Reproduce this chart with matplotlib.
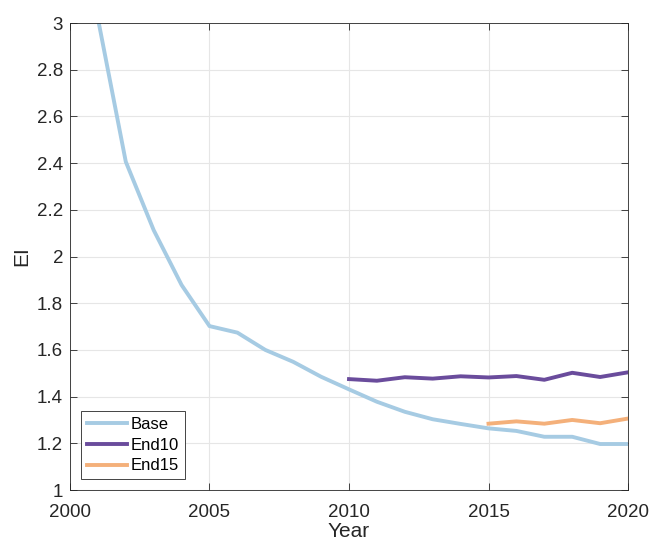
import matplotlib
matplotlib.use('Agg')
import matplotlib.pyplot as plt
import numpy as np

plt.rcParams['font.family'] = ['Liberation Sans', 'DejaVu Sans']

# Data
years_base = np.arange(2001, 2021)
base = [3.02, 2.406, 2.113, 1.878, 1.702, 1.674, 1.600, 1.549, 1.485, 1.431,
        1.378, 1.335, 1.303, 1.283, 1.264, 1.253, 1.228, 1.228, 1.197, 1.197]

years_end10 = np.arange(2010, 2021)
end10 = [1.475, 1.468, 1.483, 1.477, 1.487, 1.482, 1.488, 1.472, 1.502, 1.484, 1.504]

years_end15 = np.arange(2015, 2021)
end15 = [1.284, 1.294, 1.284, 1.300, 1.286, 1.306]

x_ticks = [2000, 2005, 2010, 2015, 2020]
y_ticks = [1, 1.2, 1.4, 1.6, 1.8, 2, 2.2, 2.4, 2.6, 2.8, 3]
y_tick_labels = ['1', '1.2', '1.4', '1.6', '1.8', '2', '2.2', '2.4', '2.6', '2.8', '3']


def plot_ei():
    fig = plt.figure(figsize=(6.51, 5.43), dpi=100)
    ax = fig.add_axes([0.1075, 0.0976, 0.8572, 0.86])

    ax.plot(years_base, base, color='#a6cbe3', linewidth=2.8, label='Base')
    ax.plot(years_end10, end10, color='#6a4c9c', linewidth=2.8, label='End10')
    ax.plot(years_end15, end15, color='#f4b07a', linewidth=2.8, label='End15')

    ax.set_xlim(2000, 2020)
    ax.set_ylim(1, 3)
    ax.set_xticks(x_ticks)
    ax.set_yticks(y_ticks)
    ax.set_yticklabels(y_tick_labels)

    ax.grid(True, color='#e6e6e6', linewidth=0.8)
    ax.set_axisbelow(True)
    ax.tick_params(direction='in', top=True, right=True, labelsize=13.5,
                   colors='#262626', length=5, width=0.6)
    ax.tick_params(axis='x', pad=10)
    ax.tick_params(axis='y', pad=5)
    for spine in ax.spines.values():
        spine.set_color('#262626')
        spine.set_linewidth(0.6)

    ax.set_xlabel('Year', fontsize=15, color='#262626', labelpad=1)
    ax.set_ylabel('EI', fontsize=15, color='#262626', labelpad=4)

    leg = ax.legend(loc='lower left', fontsize=12, fancybox=False,
                    edgecolor='#262626', framealpha=1, borderpad=0.35,
                    handlelength=2.4, handletextpad=0.25, labelspacing=0.35,
                    borderaxespad=0.65)
    leg.get_frame().set_linewidth(0.6)

    fig.savefig('out.png', dpi=100)


if __name__ == "__main__":
    plot_ei()
